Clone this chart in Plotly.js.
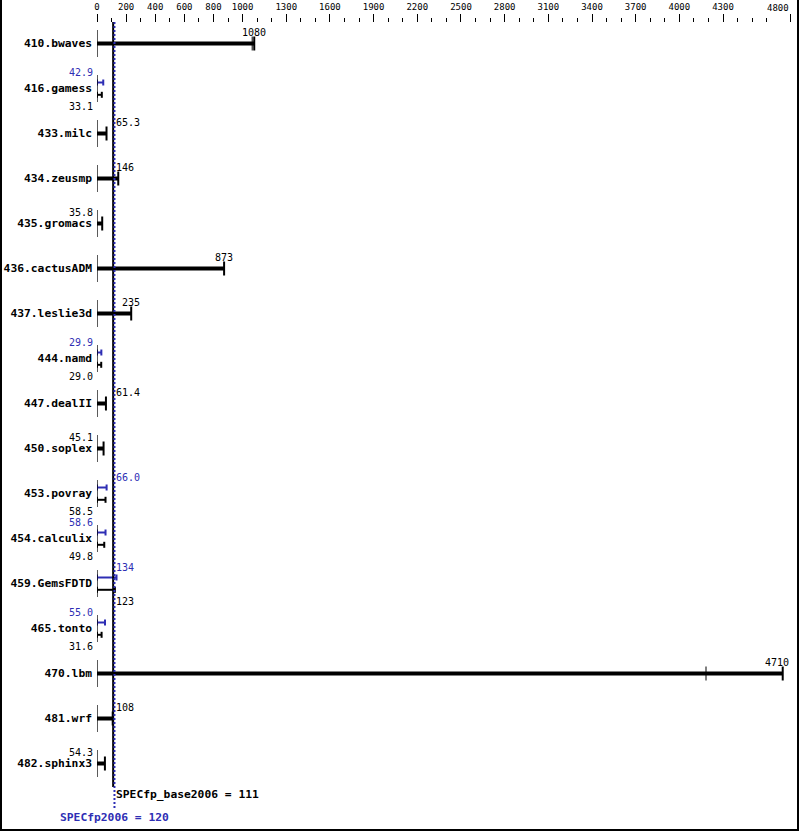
<!DOCTYPE html>
<html>
<head>
<meta charset="utf-8">
<script src="https://cdn.plot.ly/plotly-3.0.1.min.js"></script>
<style>
  html, body { margin: 0; padding: 0; background: #fff; }
  #wrap { position: relative; width: 799px; height: 831px; }
  #chart { width: 799px; height: 831px; }
  #frame { position: absolute; left: 0; top: 0; width: 799px; height: 831px; box-sizing: border-box;
           border-left: 2px solid #000; border-right: 2px solid #000; border-bottom: 2px solid #000;
           pointer-events: none; }
</style>
</head>
<body>
<div id="wrap"><div id="chart"></div><div id="frame"></div></div>
<script>
// ---------------- data ----------------
const benchmarks = ["410.bwaves","416.gamess","433.milc","434.zeusmp","435.gromacs","436.cactusADM",
  "437.leslie3d","444.namd","447.dealII","450.soplex","453.povray","454.calculix","459.GemsFDTD",
  "465.tonto","470.lbm","481.wrf","482.sphinx3"];
const baseValues = [1080, 33.1, 65.3, 146, 35.8, 873, 235, 29.0, 61.4, 45.1, 58.5, 49.8, 123, 31.6, 4710, 108, 54.3];
const peakValues = [null, 42.9, null, null, null, null, null, 29.9, null, null, 66.0, 58.6, 134, 55.0, null, null, null];
const runMarkBench = ["410.bwaves", "470.lbm"];
const runMarkValue = [1066, 4183];
const metricNames = ["SPECfp_base2006", "SPECfp2006"];
const metricScores = [111, 120];
const majorTicks = [0,200,400,600,800,1000,1300,1600,1900,2200,2500,2800,3100,3400,3700,4000,4300,4760];
const majorTickLabels = ["0","200","400","600","800","1000","1300","1600","1900","2200","2500","2800","3100","3400","3700","4000","4300","4800"];
const axisMax = 4760;

// ---------------- styling ----------------
const BLACK = "#000000";
const BLUE = "#2e2eb4";
const ROW_PX = 45;
const PLOT_L = 97, PLOT_R = 9, PLOT_T = 23, PLOT_B = 44;
const W = 799, H = 831;
const plotW = W - PLOT_L - PLOT_R, plotH = H - PLOT_T - PLOT_B;
const pxPerUnit = plotW / axisMax;
const u = px => px / ROW_PX;          // px offset -> row units
const numFont = {family: "DejaVu Sans Mono", size: 10, color: BLACK};
const nameFont = {family: "DejaVu Sans Mono", size: 11.3, color: BLACK, weight: "bold"};

const fmt = v => v >= 100 ? String(Math.round(v)) : v.toFixed(1);

// ---------------- traces ----------------
const thick = {x: [], y: []}, thickCap = {x: [], y: []};
const peakBar = {x: [], y: []}, peakCap = {x: [], y: []};
const baseBar = {x: [], y: []}, baseCap = {x: [], y: []};
const seg = {x: [], y: []}, runs = {x: [], y: []};
const annotations = [];

function push(obj, xs, ys) { obj.x.push(...xs, null); obj.y.push(...ys, null); }

function valueLabel(v, yv, color) {
  const txt = fmt(v);
  const halfW = txt.length * 3;
  let pos;
  if (v < 60) pos = {x: 0, xanchor: "right", xshift: -3};
  else if (v * pxPerUnit - halfW < metricScores[1] * pxPerUnit + 3) pos = {x: metricScores[1], xanchor: "left", xshift: 1};
  else if (v * pxPerUnit + halfW > plotW) pos = {x: axisMax, xanchor: "right", xshift: 0};
  else pos = {x: v, xanchor: "center", xshift: 0};
  annotations.push(Object.assign({text: txt, xref: "x", yref: "y", y: yv, yanchor: "middle",
    showarrow: false, borderpad: 0, font: Object.assign({}, numFont, {color: color})}, pos));
}

benchmarks.forEach((b, i) => {
  const bv = baseValues[i], pv = peakValues[i];
  push(seg, [0, 0], [i - u(13), i + u(14)]);
  if (pv === null) {
    const yb = i + u(0.5);
    push(thick, [0, bv], [yb, yb]);
    push(thickCap, [bv, bv], [yb - u(7), yb + u(7)]);
    valueLabel(bv, i - u(11), BLACK);
    runMarkBench.forEach((rb, k) => {
      if (rb === b) push(runs, [runMarkValue[k], runMarkValue[k]], [yb - u(7), yb + u(7)]);
    });
  } else {
    const yp = i - u(5.5), yb = i + u(6.8);
    push(peakBar, [0, pv], [yp, yp]);
    push(peakCap, [0, 0], [yp - u(3), yp + u(3)]);
    push(peakCap, [pv, pv], [yp - u(3), yp + u(3)]);
    push(baseBar, [0, bv], [yb, yb]);
    push(baseCap, [0, 0], [yb - u(3), yb + u(3)]);
    push(baseCap, [bv, bv], [yb - u(3), yb + u(3)]);
    valueLabel(pv, i - u(16), BLUE);
    valueLabel(bv, i + u(18), BLACK);
  }
});

const line = (d, color, width) => ({type: "scatter", mode: "lines", x: d.x, y: d.y,
  line: {color: color, width: width}, hoverinfo: "skip", cliponaxis: false});
const traces = [
  line(peakBar, BLUE, 2), line(peakCap, BLUE, 2),
  line(baseBar, BLACK, 2), line(baseCap, BLACK, 2),
  line(thick, BLACK, 4), line(thickCap, BLACK, 2),
  line(runs, BLACK, 1), line(seg, BLACK, 1.3)
];

// ---------------- reference lines & texts ----------------
const yTopRow = -(43 - PLOT_T) / ROW_PX;
const yBottom = 16 + (H - PLOT_B - (43 + 16 * ROW_PX)) / ROW_PX;
const paperY = py => (H - PLOT_B - py) / plotH;   // absolute px -> paper coordinate

const shapes = [
  {type: "line", xref: "x", yref: "paper", x0: metricScores[0], x1: metricScores[0], y0: 0, y1: paperY(22),
   line: {color: BLACK, width: 2}},
  {type: "line", xref: "x", yref: "paper", x0: metricScores[1], x1: metricScores[1], y0: paperY(808), y1: paperY(22),
   line: {color: BLUE, width: 2, dash: "2px,2px"}}
];

annotations.push({text: metricNames[0] + " = " + metricScores[0], xref: "x", yref: "paper",
  x: metricScores[0], xanchor: "left", xshift: 2, y: paperY(795), yanchor: "middle",
  showarrow: false, borderpad: 0, font: nameFont});
annotations.push({text: metricNames[1] + " = " + metricScores[1], xref: "x", yref: "paper",
  x: metricScores[1], xanchor: "center", y: paperY(817), yanchor: "middle",
  showarrow: false, borderpad: 0, font: Object.assign({}, nameFont, {color: BLUE})});
// last top tick label sits left of its tick so it stays inside the frame
annotations.push({text: majorTickLabels[majorTickLabels.length - 1], xref: "x", yref: "paper",
  x: majorTicks[majorTicks.length - 1], xanchor: "right", y: paperY(7.5), yanchor: "middle",
  showarrow: false, borderpad: 0, font: {family: "DejaVu Sans Mono", size: 9, color: BLACK}});

const minorTicks = [];
for (let v = 100; v < axisMax - 100; v += 100) if (!majorTicks.includes(v)) minorTicks.push(v);

const layout = {
  width: W, height: H,
  margin: {l: PLOT_L, r: PLOT_R, t: PLOT_T, b: PLOT_B, pad: 0},
  paper_bgcolor: "#fff", plot_bgcolor: "#fff",
  showlegend: false,
  xaxis: {
    range: [0, axisMax], side: "top", showgrid: false, zeroline: false, showline: false,
    tickmode: "array", tickvals: majorTicks,
    ticktext: majorTickLabels.map((t, k) => k === majorTickLabels.length - 1 ? "" : t),
    ticks: "outside", ticklen: 8, tickwidth: 1, tickcolor: BLACK,
    tickfont: {family: "DejaVu Sans Mono", size: 9, color: BLACK},
    minor: {tickmode: "array", tickvals: minorTicks, ticks: "outside", ticklen: 4, tickwidth: 1, tickcolor: BLACK, showgrid: false},
    fixedrange: true
  },
  yaxis: {
    range: [yBottom, yTopRow], showgrid: false, zeroline: false, showline: false,
    tickmode: "array", tickvals: benchmarks.map((b, i) => i), ticktext: benchmarks,
    ticks: "", tickfont: nameFont, ticklabelstandoff: 4, fixedrange: true
  },
  shapes: shapes,
  annotations: annotations
};

Plotly.newPlot("chart", traces, layout, {displayModeBar: false, staticPlot: true});
</script>
</body>
</html>
